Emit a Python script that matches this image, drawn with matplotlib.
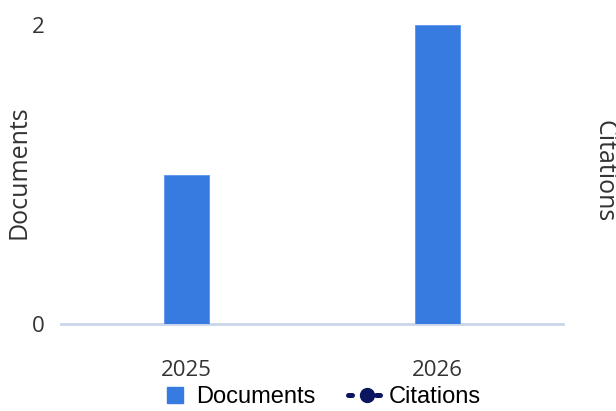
import numpy as np
import matplotlib.pyplot as plt
from matplotlib.lines import Line2D

# Data
years = ['2025', '2026']
documents = [1, 2]
citations = []  # no citation points drawn

BAR_COLOR = '#377ae0'
LINE_COLOR = '#0b1560'
AXIS_COLOR = '#c9d6ea'
TEXT_COLOR = '#333333'

fig = plt.figure(figsize=(6.16, 4.11), dpi=100)
ax = fig.add_axes([0.099, 0.2117, 0.815, 0.7273])

x = np.arange(len(years))
ax.bar(x, documents, width=0.183, color=BAR_COLOR, edgecolor='#5b93e8', linewidth=0.6, zorder=3)

ax.set_xlim(-0.5, len(years) - 0.5)
ax.set_ylim(0, 2)
ax.set_xticks(x)
ax.set_xticklabels(years, family='Open Sans', fontsize=16, color=TEXT_COLOR)
ax.set_yticks([0, 2])
ax.set_yticklabels(['0', '2'], family='Open Sans', fontsize=16, color=TEXT_COLOR)
ax.tick_params(axis='both', length=0)
ax.tick_params(axis='x', pad=26)
ax.tick_params(axis='y', pad=12)

for s in ['top', 'right', 'left']:
    ax.spines[s].set_visible(False)
ax.spines['bottom'].set_color(AXIS_COLOR)
ax.spines['bottom'].set_linewidth(2)

# axis titles
fig.text(19 / 616, 1 - 172 / 411, 'Documents', family='Open Sans', fontsize=18,
         color=TEXT_COLOR, rotation=90, ha='center', va='center', rotation_mode='anchor')
fig.text(604 / 616, 1 - 171 / 411, 'Citations', family='Open Sans', fontsize=18,
         color=TEXT_COLOR, rotation=270, ha='center', va='center', rotation_mode='anchor')

handles = [
    Line2D([0], [0], marker='s', linestyle='none', markersize=11,
           markerfacecolor=BAR_COLOR, markeredgecolor=BAR_COLOR),
    Line2D([0], [0], color=LINE_COLOR, linestyle=(0, (0.8, 2.0)), linewidth=3.6,
           dash_capstyle='round', marker='o', markersize=10,
           markerfacecolor=LINE_COLOR, markeredgecolor=LINE_COLOR),
]
fig.legend(handles, ['Documents', 'Citations'], loc='center',
           bbox_to_anchor=(0.517, 1 - 397 / 411), ncol=2, frameon=False,
           prop={'family': 'Liberation Sans', 'size': 17},
           handlelength=1.6, handletextpad=0.12, columnspacing=1.37)

fig.savefig('out.png', dpi=100)
